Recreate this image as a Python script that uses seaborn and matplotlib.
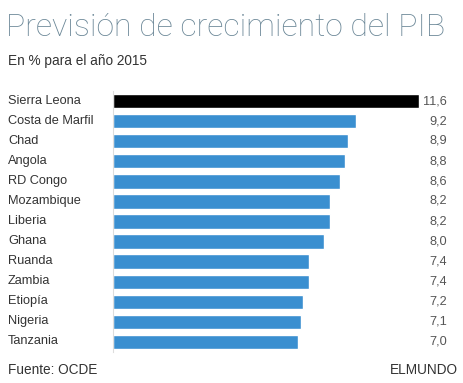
import matplotlib
matplotlib.use("Agg")
import matplotlib.pyplot as plt
import seaborn as sns
import pandas as pd

countries = ["Sierra Leona", "Costa de Marfil", "Chad", "Angola", "RD Congo",
             "Mozambique", "Liberia", "Ghana", "Ruanda", "Zambia", "Etiopía",
             "Nigeria", "Tanzania"]
growth = [11.6, 9.2, 8.9, 8.8, 8.6, 8.2, 8.2, 8.0, 7.4, 7.4, 7.2, 7.1, 7.0]
value_labels = ["11,6", "9,2", "8,9", "8,8", "8,6", "8,2", "8,2", "8,0",
                "7,4", "7,4", "7,2", "7,1", "7,0"]

df = pd.DataFrame({"pais": countries, "pib": growth})

sns.set_style("white")
plt.rcParams["font.family"] = ["Liberation Sans", "DejaVu Sans"]

W, H = 464, 383
fig = plt.figure(figsize=(W / 100, H / 100), dpi=100, facecolor="white")
ax = fig.add_axes([113 / W, 1 - 352 / H, (420 - 113) / W, (352 - 91) / H])

palette = ["#000000"] + ["#3a8fd0"] * (len(countries) - 1)
sns.barplot(data=df, y="pais", x="pib", hue="pais", palette=palette,
            legend=False, orient="h", width=0.72, ax=ax, saturation=1)

ax.set_xlim(0, 11.62)
ax.set_ylim(len(countries) - 0.5, -0.5)
ax.set_xlabel("")
ax.set_ylabel("")
ax.set_xticks([])
ax.set_yticks([])
for s in ["top", "right", "bottom"]:
    ax.spines[s].set_visible(False)
ax.spines["left"].set_color("#dddddd")
ax.spines["left"].set_linewidth(0.8)

for i, (c, v) in enumerate(zip(countries, value_labels)):
    y_fig = 1 - (101 + i * 20) / H
    fig.text(8 / W, y_fig, c, ha="left", va="center", fontsize=9.2, color="#333333")
    fig.text(447 / W, y_fig, v, ha="right", va="center", fontsize=9.2, color="#555555")

fig.text(6 / W, 1 - 28 / H, "Previsión de crecimiento del PIB", ha="left", va="center",
         fontsize=23, color="#6b8797", fontfamily=["Roboto", "DejaVu Sans"], fontweight="light")
fig.text(8 / W, 1 - 61 / H, "En % para el año 2015", ha="left", va="center",
         fontsize=9.8, color="#333333")
fig.text(8 / W, 1 - 370 / H, "Fuente: OCDE", ha="left", va="center",
         fontsize=9.8, color="#333333")
fig.text(458 / W, 1 - 370 / H, "ELMUNDO", ha="right", va="center",
         fontsize=9.8, color="#333333")

fig.savefig("out.png", dpi=100, facecolor="white")
